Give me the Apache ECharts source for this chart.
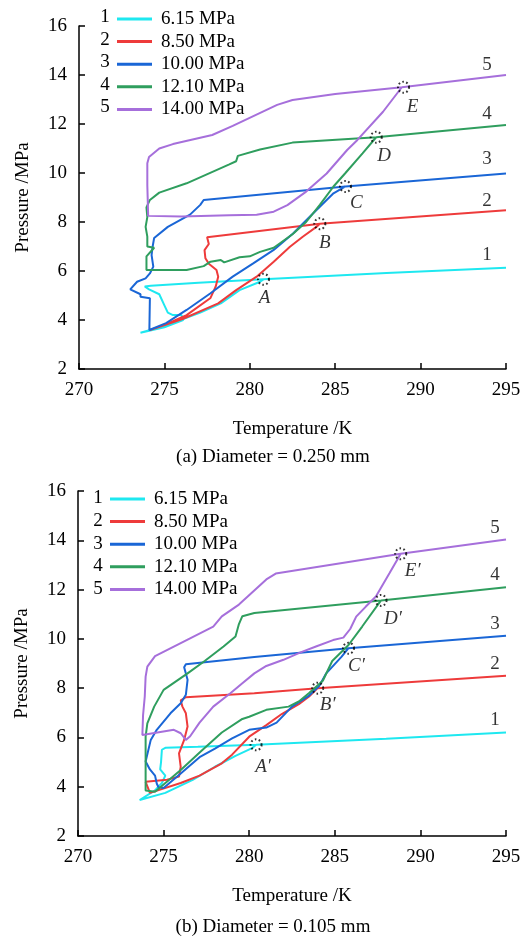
<!DOCTYPE html>
<html>
<head>
<meta charset="utf-8">
<script src="https://cdn.jsdelivr.net/npm/echarts@6/dist/echarts.min.js"></script>
<style>html,body{margin:0;padding:0;background:#fff}#c{width:526px;height:940px}</style>
</head>
<body>
<div id="c"></div>
<script>
// ---------- DATA ----------
const seriesNames = ['6.15 MPa', '8.50 MPa', '10.00 MPa', '12.10 MPa', '14.00 MPa'];
const seriesNums = ['1', '2', '3', '4', '5'];
const xTicks = [270, 275, 280, 285, 290, 295];
const yTicks = [2, 4, 6, 8, 10, 12, 14, 16];

// (a) Diameter = 0.250 mm  — [Temperature K, Pressure MPa]
const a1 = [[295,6.13],[288,5.92],[280.8,5.66],[277,5.52],[274.2,5.4],[273.85,5.37],[274.1,5.25],[274.7,5.05],[275.0,4.6],[275.2,4.3],[275.5,4.2],[276.0,4.2],[276.1,4.0],[275.0,3.7],[273.6,3.48],[275.2,3.8],[277.1,4.3],[278.3,4.68],[279.4,5.22],[280.6,5.56],[280.8,5.66]];
const a2 = [[295,8.48],[284.1,7.93],[277.5,7.38],[277.6,7.1],[277.35,6.85],[277.4,6.52],[277.6,6.3],[278.05,6.04],[278.15,5.77],[278.0,5.36],[277.7,4.9],[276.3,4.2],[275.0,3.8],[274.15,3.59],[276.1,4.05],[278.15,4.68],[279.2,5.22],[280.4,5.77],[281.4,6.38],[282.35,6.99],[283.1,7.4],[283.9,7.8],[284.1,7.93]];
const a3 = [[295,9.98],[285.6,9.45],[277.3,8.9],[277.1,8.7],[276.5,8.3],[275.2,7.8],[274.4,7.35],[274.3,6.95],[274.25,6.65],[274.35,6.18],[274.15,5.9],[273.9,5.7],[273.4,5.56],[273.0,5.25],[273.6,5.05],[273.6,4.95],[274.15,4.89],[274.12,3.59],[275.1,3.87],[276.3,4.41],[277.7,5.09],[279.0,5.77],[280.2,6.31],[281.4,6.86],[282.55,7.54],[283.7,8.35],[284.9,9.17],[285.6,9.45]];
const a4 = [[295,11.96],[287.4,11.46],[282.5,11.24],[280.6,10.96],[279.3,10.7],[279.2,10.48],[278.8,10.35],[276.3,9.58],[274.7,9.2],[274.15,8.9],[273.95,8.6],[274.0,8.2],[273.9,7.8],[274.0,7.4],[274.0,7.0],[274.4,6.95],[273.95,6.6],[273.95,6.04],[276.3,6.04],[277.3,6.2],[277.7,6.38],[278.3,6.45],[278.5,6.35],[279.4,6.56],[280.0,6.6],[280.6,6.78],[281.4,6.95],[282.5,7.5],[283.3,8.0],[284.1,8.7],[284.9,9.45],[285.6,10.0],[286.6,10.8],[287.4,11.46]];
const a5 = [[295,14.0],[288.9,13.5],[285,13.22],[282.5,12.98],[281.6,12.78],[279,11.92],[277.8,11.55],[275.5,11.18],[274.7,11.0],[274.1,10.65],[274.0,10.4],[274.0,9.5],[274.05,8.25],[276,8.22],[278.8,8.28],[280.4,8.3],[281.4,8.42],[282.2,8.69],[283.3,9.24],[284.5,9.98],[285.7,10.94],[286.3,11.35],[287.8,12.5],[288.9,13.5]];

// (b) Diameter = 0.105 mm
const b1 = [[295,6.2],[288,5.95],[280.4,5.7],[277,5.62],[275.1,5.58],[274.9,5.5],[274.85,5.0],[274.8,4.7],[275.1,4.45],[274.9,4.15],[274.5,3.85],[273.6,3.46],[275.1,3.75],[276.7,4.28],[278.0,4.81],[279.2,5.25],[280.2,5.58],[280.4,5.7]];
const b2 = [[295,8.5],[284.0,8.0],[280.3,7.79],[276.3,7.63],[276.0,7.5],[276.1,7.25],[276.3,6.98],[276.4,6.44],[276.2,5.9],[275.9,5.35],[276.0,4.81],[275.9,4.41],[275.2,4.28],[273.95,4.2],[274.2,3.75],[276.0,4.15],[277.1,4.45],[278.4,4.95],[279.0,5.3],[280.0,6.03],[281.0,6.5],[281.9,6.95],[282.9,7.35],[283.5,7.66],[284.0,8.0]];
const b3 = [[295,10.13],[285.8,9.62],[280.3,9.26],[276.3,8.97],[276.2,8.85],[276.4,8.34],[276.3,7.73],[276.0,7.39],[275.4,6.98],[274.6,6.31],[274.25,5.9],[273.95,5.02],[274.2,4.7],[274.5,4.45],[274.6,4.13],[274.7,3.98],[275.0,3.95],[276.0,4.54],[277.1,5.2],[278.0,5.55],[279.0,5.96],[280.0,6.31],[281.0,6.4],[281.6,6.6],[282.5,7.25],[283.5,7.7],[284.1,8.1],[284.5,8.6],[285.4,9.28],[285.8,9.62]];
const b4 = [[295,12.09],[287.7,11.56],[280.3,11.05],[279.6,10.92],[279.4,10.6],[279.2,10.1],[278.5,9.69],[277.4,9.1],[276.4,8.6],[275.0,7.93],[274.45,7.25],[274.05,6.57],[273.95,6.03],[273.95,5.0],[273.95,3.85],[274.5,3.8],[276.0,4.68],[277.2,5.45],[278.4,6.2],[279.6,6.75],[280.0,6.84],[281.0,7.12],[282.3,7.25],[282.9,7.46],[283.5,7.8],[284.3,8.3],[284.85,9.1],[285.8,9.75],[286.6,10.5],[287.7,11.56]];
const b5 = [[295,14.03],[288.85,13.45],[281.55,12.65],[281.0,12.41],[279.4,11.39],[278.4,10.91],[277.9,10.5],[276.0,9.83],[274.5,9.3],[274.05,8.87],[273.95,8.47],[273.9,7.66],[273.8,6.9],[273.76,6.1],[275.6,6.31],[276.0,6.17],[276.3,5.9],[276.55,6.05],[277.1,6.6],[277.9,7.25],[278.9,7.79],[279.6,8.2],[280.3,8.6],[281.0,8.9],[282.0,9.15],[283.0,9.45],[283.9,9.69],[284.9,9.95],[285.5,10.05],[285.9,10.4],[286.25,10.9],[286.8,11.3],[287.4,11.72],[288.2,12.67],[288.85,13.45]];

// Marked dissociation points
const ptsA = [[280.8,5.66],[284.1,7.93],[285.6,9.45],[287.4,11.46],[289.0,13.5]];
const ptsALabels = ['A','B','C','D','E'];
const ptsB = [[280.4,5.7],[284.0,8.0],[285.8,9.62],[287.7,11.56],[288.85,13.45]];
const ptsBLabels = ['A\u2032','B\u2032','C\u2032','D\u2032','E\u2032'];

// ---------- STYLE ----------
const colors = ['#1EE8F0', '#EE3B3B', '#1A66D6', '#2F9E5E', '#A66FDB'];
const FF = "'Liberation Serif','Times New Roman',serif";
const FS = 19;

const chart = echarts.init(document.getElementById('c'), null, {renderer: 'canvas'});

function xAx(gi) {
  return {
    type: 'value', gridIndex: gi, min: 270, max: 295, interval: 5,
    name: 'Temperature /K', nameLocation: 'middle', nameGap: 51,
    nameTextStyle: {fontFamily: FF, fontSize: FS, color: '#000'},
    axisLine: {show: true, onZero: false, lineStyle: {color: '#000', width: 1.5}},
    axisTick: {show: true, inside: true, length: 6, lineStyle: {color: '#000', width: 1.5}},
    axisLabel: {fontFamily: FF, fontSize: FS, color: '#000', margin: 12},
    splitLine: {show: false}
  };
}
function yAx(gi) {
  return {
    type: 'value', gridIndex: gi, min: 2, max: 16, interval: 2,
    name: 'Pressure /MPa', nameLocation: 'middle', nameGap: 46, nameRotate: 90,
    nameTextStyle: {fontFamily: FF, fontSize: FS, color: '#000'},
    axisLine: {show: true, onZero: false, lineStyle: {color: '#000', width: 1.5}},
    axisTick: {show: true, inside: true, length: 6, lineStyle: {color: '#000', width: 1.5}},
    axisLabel: {fontFamily: FF, fontSize: FS, color: '#000', margin: 12},
    splitLine: {show: false}
  };
}

const dataA = [a1, a2, a3, a4, a5];
const dataB = [b1, b2, b3, b4, b5];
const series = [];
[dataA, dataB].forEach((set, gi) => {
  set.forEach((d, i) => {
    series.push({
      type: 'line', name: seriesNames[i], xAxisIndex: gi, yAxisIndex: gi,
      data: d, showSymbol: false, symbol: 'none', smooth: false,
      lineStyle: {color: colors[i], width: 2}, itemStyle: {color: colors[i]},
      z: 2, silent: true
    });
  });
});

// end-of-line number labels
const endOffsets = [
  [[-19, -13], [-19, -9], [-19, -14], [-19, -11], [-19, -10]],
  [[-11, -12], [-11, -12], [-11, -12], [-11, -12], [-11, -12]]
];
[dataA, dataB].forEach((set, gi) => {
  series.push({
    type: 'scatter', xAxisIndex: gi, yAxisIndex: gi, symbolSize: 0,
    data: set.map((d, i) => ({value: d[0], name: seriesNums[i], label: {offset: endOffsets[gi][i]}})),
    label: {show: true, position: 'inside', formatter: p => p.name,
            fontFamily: FF, fontSize: FS, color: '#000'},
    z: 5, silent: true
  });
});

// dotted circles + letters
const offA = [[1, 19], [5, 19], [11, 17], [8, 19], [9, 20]];
const offB = [[7, 22], [10, 17], [8, 18], [12, 19], [12, 17]];
[[ptsA, ptsALabels, offA], [ptsB, ptsBLabels, offB]].forEach(([pts, labs, offs], gi) => {
  series.push({
    type: 'scatter', xAxisIndex: gi, yAxisIndex: gi, symbol: 'circle', symbolSize: 11,
    data: pts.map((p, i) => ({value: p, name: labs[i], label: {offset: offs[i]}})),
    itemStyle: {color: 'rgba(0,0,0,0)', borderColor: '#000', borderWidth: 2, borderType: [1.6, 2.4]},
    label: {show: true, position: 'inside', formatter: p => p.name,
            fontFamily: FF, fontSize: FS, fontStyle: 'italic', color: '#000'},
    z: 6, silent: true
  });
});

function legendCfg(left, top) {
  return {
    orient: 'vertical', left: left, top: top, padding: 0, itemWidth: 35, itemHeight: 3, itemGap: 0.6,
    icon: 'rect', selectedMode: false, data: seriesNames,
    textStyle: {fontFamily: FF, fontSize: FS, color: '#000', lineHeight: 22, padding: [0, 0, 0, 4]}
  };
}

const graphics = [];
const numRows = [[105, 17], [98, 498.5]];
numRows.forEach(([x, y0]) => {
  seriesNums.forEach((n, i) => {
    graphics.push({type: 'text', x: x, y: y0 + i * 22.6,
      style: {text: n, fontFamily: FF, fontSize: FS, fill: '#000', align: 'center', verticalAlign: 'middle'}});
  });
});
graphics.push({type: 'text', x: 273, y: 457, style: {text: '(a) Diameter = 0.250 mm', fontFamily: FF, fontSize: FS, fill: '#000', align: 'center', verticalAlign: 'middle'}});
graphics.push({type: 'text', x: 273, y: 927, style: {text: '(b) Diameter = 0.105 mm', fontFamily: FF, fontSize: FS, fill: '#000', align: 'center', verticalAlign: 'middle'}});

chart.setOption({
  animation: false,
  backgroundColor: '#fff',
  grid: [
    {left: 79, right: 20, top: 26, height: 343},
    {left: 78, right: 20, top: 491, height: 345}
  ],
  xAxis: [xAx(0), xAx(1)],
  yAxis: [yAx(0), yAx(1)],
  legend: [legendCfg(117, 8), legendCfg(110, 488)],
  series: series,
  graphic: graphics
});
</script>
</body>
</html>
